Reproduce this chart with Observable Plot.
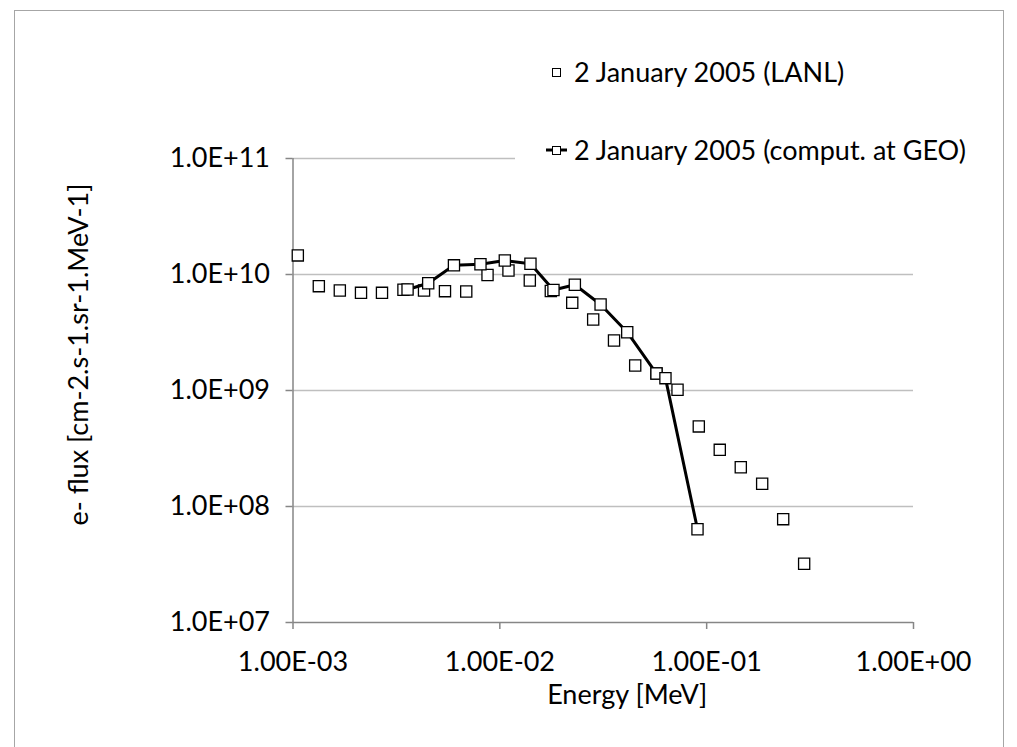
<!DOCTYPE html>
<html>
<head>
<meta charset="utf-8">
<script src="https://cdn.jsdelivr.net/npm/d3@7"></script>
<script src="https://cdn.jsdelivr.net/npm/@observablehq/plot@0.6"></script>
<style>
  body { margin: 0; background: #fff; overflow: hidden; }
  #wrap { position: relative; width: 1017px; height: 747px; overflow: hidden; font-family: Lato, "Open Sans", sans-serif; color: #000; }
  #border { position: absolute; left: 14px; top: 10px; width: 990px; height: 760px; border: 1.5px solid #a6a6a6; box-sizing: border-box; pointer-events: none; }
  #chart { position: absolute; left: 0; top: 0; }
  #legend { position: absolute; left: 515px; top: 42px; width: 475px; height: 135px; background: #fff; }
  .entry { position: absolute; left: 0; height: 40px; width: 475px; font-size: 27px; line-height: 40px; white-space: nowrap; }
  .entry svg { position: absolute; left: 28px; top: 10px; }
  .entry span { position: absolute; left: 59px; top: 0; }
</style>
</head>
<body>
<div id="wrap">
  <div id="chart"></div>
  <div id="legend"></div>
  <div id="border"></div>
</div>
<script>
// Series: LANL measurements (markers only)
const lanlEnergy = [1.055e-3, 1.333e-3, 1.684e-3, 2.132e-3, 2.693e-3, 3.42e-3, 4.30e-3, 5.43e-3, 6.88e-3, 8.72e-3,
                    1.101e-2, 1.396e-2, 1.764e-2, 2.239e-2, 2.827e-2, 3.565e-2, 4.513e-2, 5.72e-2, 7.23e-2, 9.16e-2,
                    0.1157, 0.1462, 0.1855, 0.2344, 0.296];
const lanlFlux = [1.46e10, 7.93e9, 7.28e9, 6.95e9, 6.95e9, 7.38e9, 7.28e9, 7.18e9, 7.14e9, 9.9e9,
                  1.083e10, 8.88e9, 7.21e9, 5.70e9, 4.09e9, 2.70e9, 1.643e9, 1.402e9, 1.014e9, 4.90e8,
                  3.08e8, 2.18e8, 1.57e8, 7.78e7, 3.21e7];
// Series: computed at GEO (line + markers)
const geoEnergy = [3.58e-3, 4.505e-3, 6.00e-3, 8.06e-3, 1.057e-2, 1.406e-2, 1.817e-2, 2.305e-2, 3.07e-2, 4.13e-2,
                   5.72e-2, 6.32e-2, 9.03e-2];
const geoFlux = [7.43e9, 8.41e9, 1.20e10, 1.227e10, 1.32e10, 1.237e10, 7.35e9, 8.15e9, 5.51e9, 3.18e9,
                 1.40e9, 1.277e9, 6.37e7];

const seriesNames = ["2 January 2005 (LANL)", "2 January 2005 (comput. at GEO)"];
const xTicks = [1e-3, 1e-2, 1e-1, 1];
const xTickLabels = ["1.00E-03", "1.00E-02", "1.00E-01", "1.00E+00"];
const yTicks = [1e7, 1e8, 1e9, 1e10, 1e11];
const yTickLabels = ["1.0E+07", "1.0E+08", "1.0E+09", "1.0E+10", "1.0E+11"];
const xTitle = "Energy [MeV]";
const yTitle = "e- flux [cm-2.s-1.sr-1.MeV-1]";

const lanl = lanlEnergy.map((e, i) => ({energy: e, flux: lanlFlux[i]}));
const geo = geoEnergy.map((e, i) => ({energy: e, flux: geoFlux[i]}));

const FS = 27;
const chart = Plot.plot({
  width: 1017,
  height: 747,
  marginLeft: 292.5,
  marginRight: 104,
  marginTop: 158,
  marginBottom: 125,
  x: {type: "log", domain: [xTicks[0], xTicks[xTicks.length - 1]]},
  y: {type: "log", domain: [yTicks[0], yTicks[yTicks.length - 1]]},
  style: {fontFamily: "Lato, 'Open Sans', sans-serif", fontSize: FS + "px", color: "#000", background: "transparent", overflow: "visible"},
  marks: [
    Plot.ruleY(yTicks.slice(1), {stroke: "#bfbfbf", strokeWidth: 1.5}),
    Plot.ruleY([yTicks[0]], {stroke: "#868686", strokeWidth: 1.5}),
    Plot.ruleX([xTicks[0]], {stroke: "#868686", strokeWidth: 1.5}),
    Plot.axisY({ticks: yTicks, tickFormat: d => yTickLabels[yTicks.indexOf(d)], tickSize: 7, tickPadding: 16,
                stroke: "#868686", strokeWidth: 1.5, label: null, fontSize: FS}),
    Plot.axisX({ticks: xTicks, tickFormat: d => xTickLabels[xTicks.indexOf(d)], tickSize: 7, tickPadding: 22,
                stroke: "#868686", strokeWidth: 1.5, label: null, fontSize: FS}),
    Plot.text([xTitle], {frameAnchor: "bottom", dx: 24, dy: 73, lineAnchor: "middle", textAnchor: "middle", fontSize: FS}),
    Plot.text([yTitle], {frameAnchor: "left", rotate: -90, dx: -214, dy: -36, lineAnchor: "middle", textAnchor: "middle", fontSize: FS}),
    Plot.dot(lanl, {x: "energy", y: "flux", symbol: "square", r: 6.3, fill: "white", stroke: "black", strokeWidth: 1.3}),
    Plot.line(geo, {x: "energy", y: "flux", stroke: "black", strokeWidth: 3}),
    Plot.dot(geo, {x: "energy", y: "flux", symbol: "square", r: 6.3, fill: "white", stroke: "black", strokeWidth: 1.3})
  ]
});
document.getElementById("chart").appendChild(chart);

// Legend
const legend = document.getElementById("legend");
const entries = [
  {name: seriesNames[0], top: 10, line: false},
  {name: seriesNames[1], top: 88, line: true}
];
for (const e of entries) {
  const div = document.createElement("div");
  div.className = "entry";
  div.style.top = e.top + "px";
  const ns = "http://www.w3.org/2000/svg";
  const svg = document.createElementNS(ns, "svg");
  svg.setAttribute("width", 26);
  svg.setAttribute("height", 20);
  if (e.line) {
    const l = document.createElementNS(ns, "line");
    l.setAttribute("x1", 3); l.setAttribute("x2", 24);
    l.setAttribute("y1", 10); l.setAttribute("y2", 10);
    l.setAttribute("stroke", "black"); l.setAttribute("stroke-width", 3);
    svg.appendChild(l);
  }
  const r = document.createElementNS(ns, "rect");
  r.setAttribute("x", 9.5); r.setAttribute("y", 6.5);
  r.setAttribute("width", 8); r.setAttribute("height", 8);
  r.setAttribute("fill", "white"); r.setAttribute("stroke", "black"); r.setAttribute("stroke-width", 1);
  svg.appendChild(r);
  div.appendChild(svg);
  const span = document.createElement("span");
  span.textContent = e.name;
  div.appendChild(span);
  legend.appendChild(div);
}
</script>
</body>
</html>
